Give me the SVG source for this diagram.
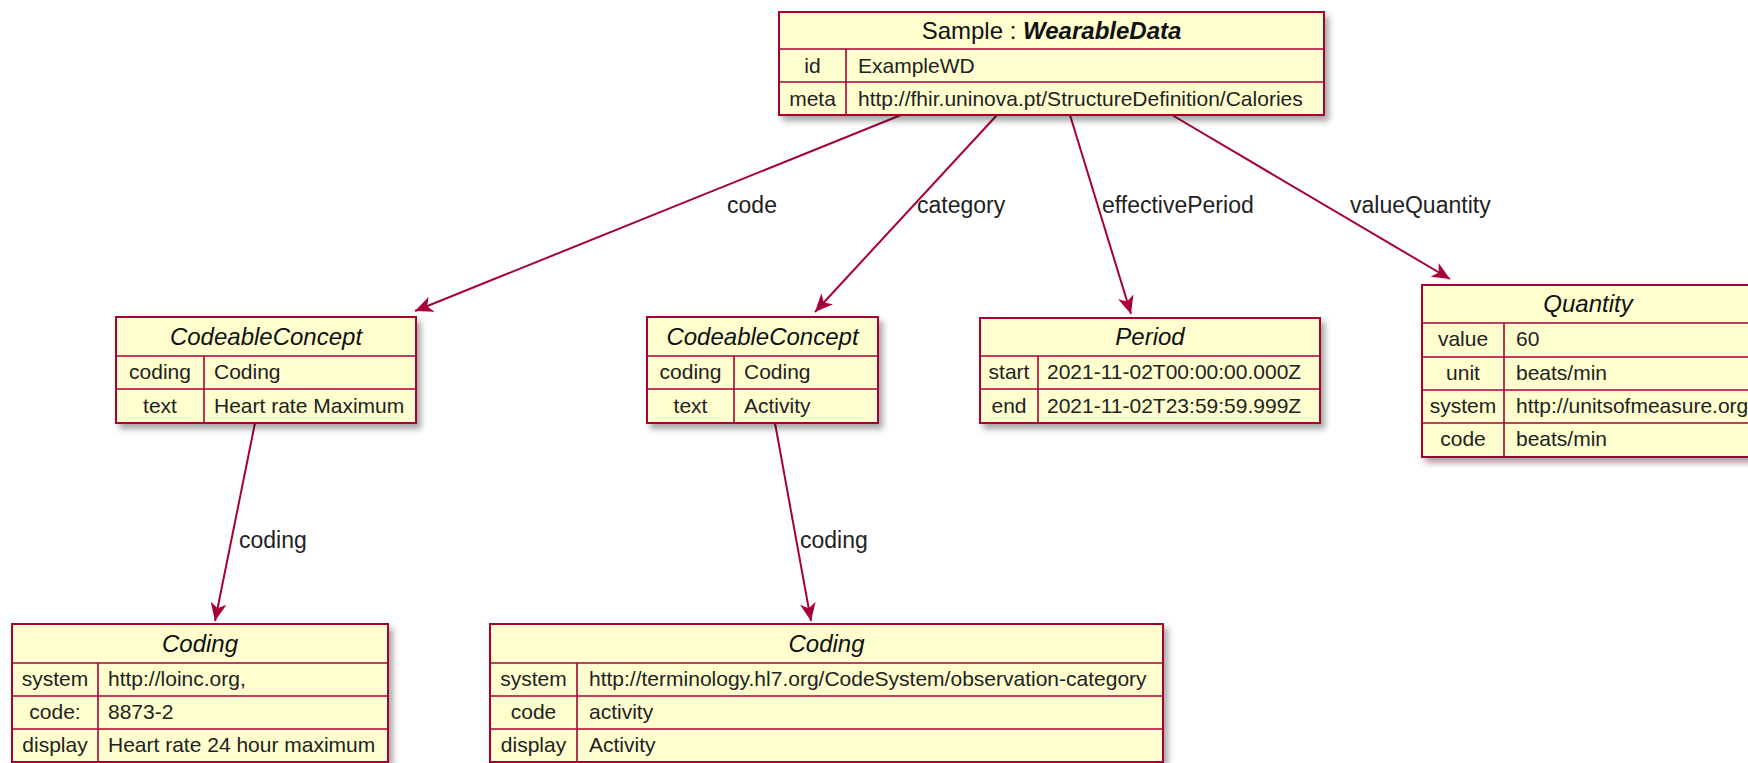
<svg xmlns="http://www.w3.org/2000/svg" width="1748" height="763" viewBox="0 0 1748 763">
<defs>
<filter id="sh" x="-5%" y="-5%" width="115%" height="130%"><feDropShadow dx="4" dy="5" stdDeviation="3" flood-color="#000" flood-opacity="0.35"/></filter>
<marker id="ah" markerWidth="20" markerHeight="16" refX="18" refY="8" orient="auto" markerUnits="userSpaceOnUse"><path d="M0,0 L18,8 L0,16 L5,8 Z" fill="#A80036"/></marker>
</defs>
<style>
.box{fill:#FEFECE;stroke:#A80036;stroke-width:2;filter:url(#sh)}
.ln{stroke:#A80036;stroke-width:1.6}
.t{font-family:'Liberation Sans',Arial,sans-serif;font-size:21px;fill:#222}
.k{text-anchor:middle}
.h{font-family:'Liberation Sans',Arial,sans-serif;font-size:24px;font-style:italic;text-anchor:middle;fill:#111}
.lab{font-family:'Liberation Sans',Arial,sans-serif;font-size:23px;fill:#222}
.c{fill:none;stroke:#A80036;stroke-width:2;marker-end:url(#ah)}
</style>
<rect width="1748" height="763" fill="#ffffff"/>

<g id="connectors">
<path class="c" d="M901,115 L415,311"/>
<path class="c" d="M997,115 L815,312"/>
<path class="c" d="M1070,115 L1131,314"/>
<path class="c" d="M1172,115 L1450,279"/>
<path class="c" d="M255,423 L215,621"/>
<path class="c" d="M775,423 L811,621"/>
<text class="lab" x="752" y="213" text-anchor="middle">code</text>
<text class="lab" x="917" y="213">category</text>
<text class="lab" x="1102" y="213">effectivePeriod</text>
<text class="lab" x="1350" y="213">valueQuantity</text>
<text class="lab" x="239" y="548">coding</text>
<text class="lab" x="800" y="548">coding</text>
</g>

<g id="sample">
<rect class="box" x="779" y="12" width="545" height="103"/>
<line class="ln" x1="779" y1="49" x2="1324" y2="49"/>
<line class="ln" x1="779" y1="82" x2="1324" y2="82"/>
<line class="ln" x1="846" y1="49" x2="846" y2="115"/>
<text class="h" x="1051.5" y="39" style="font-style:normal">Sample : <tspan font-weight="bold" font-style="italic">WearableData</tspan></text>
<text class="t k" x="812.5" y="73">id</text>
<text class="t" x="858" y="73">ExampleWD</text>
<text class="t k" x="812.5" y="106">meta</text>
<text class="t" x="858" y="106">http://fhir.uninova.pt/StructureDefinition/Calories</text>
</g>

<g id="cc1">
<rect class="box" x="116" y="317" width="300" height="106"/>
<line class="ln" x1="116" y1="356" x2="416" y2="356"/>
<line class="ln" x1="116" y1="389" x2="416" y2="389"/>
<line class="ln" x1="204" y1="356" x2="204" y2="423"/>
<text class="h" x="266" y="345">CodeableConcept</text>
<text class="t k" x="160" y="379">coding</text>
<text class="t" x="214" y="379">Coding</text>
<text class="t k" x="160" y="413">text</text>
<text class="t" x="214" y="413">Heart rate Maximum</text>
</g>

<g id="cc2">
<rect class="box" x="647" y="317" width="231" height="106"/>
<line class="ln" x1="647" y1="356" x2="878" y2="356"/>
<line class="ln" x1="647" y1="389" x2="878" y2="389"/>
<line class="ln" x1="734" y1="356" x2="734" y2="423"/>
<text class="h" x="762.5" y="345">CodeableConcept</text>
<text class="t k" x="690.5" y="379">coding</text>
<text class="t" x="744" y="379">Coding</text>
<text class="t k" x="690.5" y="413">text</text>
<text class="t" x="744" y="413">Activity</text>
</g>

<g id="period">
<rect class="box" x="980" y="318" width="340" height="105"/>
<line class="ln" x1="980" y1="356" x2="1320" y2="356"/>
<line class="ln" x1="980" y1="389" x2="1320" y2="389"/>
<line class="ln" x1="1038" y1="356" x2="1038" y2="423"/>
<text class="h" x="1150" y="345">Period</text>
<text class="t k" x="1009" y="379">start</text>
<text class="t" x="1047" y="379">2021-11-02T00:00:00.000Z</text>
<text class="t k" x="1009" y="413">end</text>
<text class="t" x="1047" y="413">2021-11-02T23:59:59.999Z</text>
</g>

<g id="quantity">
<rect class="box" x="1422" y="285" width="332" height="172"/>
<line class="ln" x1="1422" y1="323" x2="1754" y2="323"/>
<line class="ln" x1="1422" y1="357" x2="1754" y2="357"/>
<line class="ln" x1="1422" y1="390" x2="1754" y2="390"/>
<line class="ln" x1="1422" y1="423" x2="1754" y2="423"/>
<line class="ln" x1="1504" y1="323" x2="1504" y2="457"/>
<text class="h" x="1588" y="312">Quantity</text>
<text class="t k" x="1463" y="346">value</text>
<text class="t" x="1516" y="346">60</text>
<text class="t k" x="1463" y="380">unit</text>
<text class="t" x="1516" y="380">beats/min</text>
<text class="t k" x="1463" y="413">system</text>
<text class="t" x="1516" y="413">http://unitsofmeasure.org</text>
<text class="t k" x="1463" y="446">code</text>
<text class="t" x="1516" y="446">beats/min</text>
</g>

<g id="coding1">
<rect class="box" x="12" y="624" width="376" height="138"/>
<line class="ln" x1="12" y1="663" x2="388" y2="663"/>
<line class="ln" x1="12" y1="696" x2="388" y2="696"/>
<line class="ln" x1="12" y1="729" x2="388" y2="729"/>
<line class="ln" x1="98" y1="663" x2="98" y2="762"/>
<text class="h" x="200" y="652">Coding</text>
<text class="t k" x="55" y="686">system</text>
<text class="t" x="108" y="686">http://loinc.org,</text>
<text class="t k" x="55" y="719">code:</text>
<text class="t" x="108" y="719">8873-2</text>
<text class="t k" x="55" y="752">display</text>
<text class="t" x="108" y="752">Heart rate 24 hour maximum</text>
</g>

<g id="coding2">
<rect class="box" x="490" y="624" width="673" height="138"/>
<line class="ln" x1="490" y1="663" x2="1163" y2="663"/>
<line class="ln" x1="490" y1="696" x2="1163" y2="696"/>
<line class="ln" x1="490" y1="729" x2="1163" y2="729"/>
<line class="ln" x1="577" y1="663" x2="577" y2="762"/>
<text class="h" x="826.5" y="652">Coding</text>
<text class="t k" x="533.5" y="686">system</text>
<text class="t" x="589" y="686">http://terminology.hl7.org/CodeSystem/observation-category</text>
<text class="t k" x="533.5" y="719">code</text>
<text class="t" x="589" y="719">activity</text>
<text class="t k" x="533.5" y="752">display</text>
<text class="t" x="589" y="752">Activity</text>
</g>
</svg>
